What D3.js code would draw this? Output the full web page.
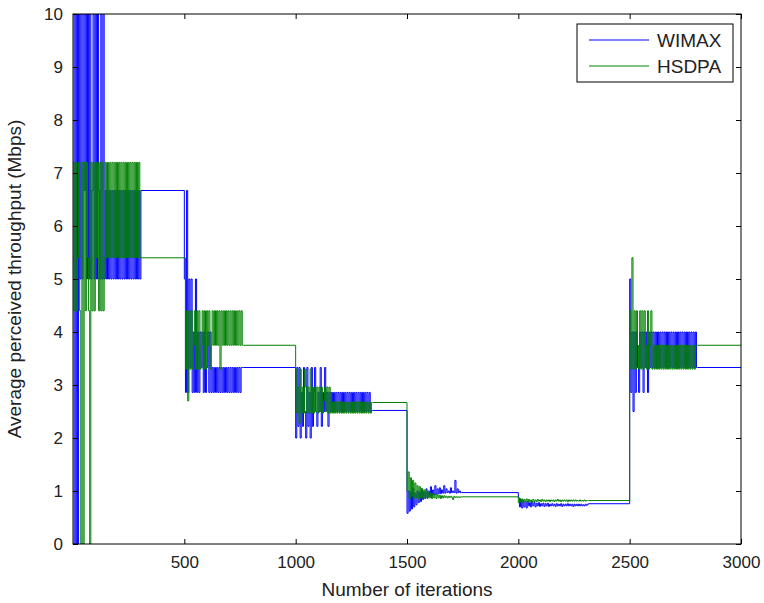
<!DOCTYPE html>
<html>
<head>
<meta charset="utf-8">
<script src="https://cdn.jsdelivr.net/npm/d3@7"></script>
<style>
  body { margin: 0; background: #fff; }
  svg text { font-family: "Liberation Sans", Arial, sans-serif; fill: #222; }
</style>
</head>
<body>
<div id="chart"></div>
<script>
// iterations between two samples of the oscillating part
const step = 5;
const phaseStarts = [0, 500, 1000, 1500, 2000, 2500];
const xMax = 3000;
const xTicks = [500, 1000, 1500, 2000, 2500, 3000];
const yTicks = [0, 1, 2, 3, 4, 5, 6, 7, 8, 9, 10];

// settled level of each phase
const wimaxLevels = [6.67, 3.33, 2.52, 0.97, 0.76, 3.33];
const hsdpaLevels = [5.4, 3.75, 2.67, 0.89, 0.82, 3.75];

// oscillating part of each phase (one value every `step` iterations)
const wimaxP1 = [0, 10, 0, 10, 0, 10,
  5, 10, 5, 10, 6.67, 10, 5, 10, 5, 10, 5, 6.67, 10, 5, 10, 5, 10, 6.67, 5, 10, 5, 10,
  5, 6.67, 5, 6.67, 5, 6.67, 5, 6.67, 5, 6.67, 5, 6.67, 5, 6.67, 5, 6.67, 5, 6.67,
  5, 6.67, 5, 6.67, 5, 6.67, 5, 6.67, 5, 6.67, 5, 6.67, 5, 6.67, 5];
const hsdpaP1 = [7.2, 4.4, 7.2, 4.4, 5.4, 7.2, 4.4, 0, 7.2, 0, 7.2, 4.4, 7.2, 5.4,
  4.4, 0, 7.2, 4.4, 7.2, 4.4, 7.2, 5.4, 7.2, 4.4, 7.2, 4.4, 7.2, 4.4,
  5.4, 7.2, 5.4, 7.2, 5.4, 7.2, 5.4, 7.2, 5.4, 7.2, 5.4, 7.2, 5.4, 7.2, 5.4, 7.2,
  5.4, 7.2, 5.4, 7.2, 5.4, 7.2, 5.4, 7.2, 5.4, 7.2, 5.4, 7.2, 5.4, 7.2, 5.4, 7.2, 5.4];

const wimaxP2 = [5, 2.86, 6.67, 2.86, 5, 3.33, 5, 2.86, 4, 2.86, 5, 2.86,
  4, 2.86, 4, 3.33, 4, 2.86, 4, 2.86, 3.33, 4, 2.86, 4,
  2.86, 3.33, 2.86, 3.33, 2.86, 3.33, 2.86, 3.33, 2.86, 3.33, 2.86, 3.33, 2.86, 3.33,
  2.86, 3.33, 2.86, 3.33, 2.86, 3.33, 2.86, 3.33, 2.86, 3.33, 2.86, 3.33, 2.86, 3.33, 3.33];
const hsdpaP2 = [5.4, 3.3, 4.4, 2.7, 4.4, 3.3, 4.4, 3.3, 3.75, 4.4, 3.3, 4.4,
  3.3, 4.4, 3.3, 3.75, 4.4, 3.3, 4.4, 3.3, 4.4, 3.75, 4.4, 3.3,
  3.75, 4.4, 3.75, 4.4, 3.75, 4.4, 3.75, 4.4, 3.3, 4.4, 3.75, 4.4, 3.75, 4.4,
  3.75, 4.4, 3.75, 4.4, 3.75, 4.4, 3.75, 4.4, 3.75, 4.4, 3.75, 4.4, 3.75, 4.4, 3.75];

const wimaxP3 = [2.0, 3.33, 2.22, 3.33, 2.0, 2.86, 2.22, 3.33, 2.5, 2.0, 3.33, 2.22, 2.86, 2.0, 3.33,
  2.22, 2.86, 3.33, 2.5, 2.22, 2.86, 2.5, 3.33, 2.22, 2.86, 2.5, 3.33, 2.5, 2.86, 2.22, 2.86,
  2.5, 2.86, 2.5, 2.86, 2.5, 2.86, 2.5, 2.86, 2.5, 2.86, 2.5, 2.86, 2.5, 2.86, 2.5, 2.86,
  2.5, 2.86, 2.5, 2.86, 2.5, 2.86, 2.5, 2.86, 2.5, 2.86, 2.5, 2.86, 2.5, 2.86, 2.5, 2.86,
  2.5, 2.86, 2.5, 2.86, 2.5, 2.52];
const hsdpaP3 = [3.3, 2.47, 2.96, 2.28, 3.3, 2.47, 2.96, 2.47, 3.3, 2.96, 2.47, 2.96, 2.47, 3.3, 2.47,
  2.96, 2.47, 2.96, 2.5, 2.96, 2.47, 2.96, 2.5, 2.96, 2.47, 2.7, 2.96, 2.5, 2.96, 2.47, 2.96,
  2.47, 2.68, 2.47, 2.68, 2.47, 2.68, 2.47, 2.68, 2.47, 2.68, 2.47, 2.68, 2.47, 2.68, 2.47, 2.68,
  2.47, 2.68, 2.47, 2.68, 2.47, 2.68, 2.47, 2.68, 2.47, 2.68, 2.47, 2.68, 2.47, 2.68, 2.47, 2.68,
  2.47, 2.68, 2.47, 2.68, 2.47, 2.67];

const wimaxP4 = [0.58, 1.0, 0.62, 0.98, 0.66, 1.05, 0.7, 0.96, 0.74, 1.0, 0.78, 0.98, 0.8, 1.02,
  0.84, 0.98, 0.86, 1.04, 0.88, 1.0, 0.9, 1.08, 0.92, 1.02, 0.93, 1.1, 0.94, 1.04, 0.95, 1.06,
  0.95, 1.02, 0.96, 1.1, 0.96, 1.04, 0.97, 1.0, 0.96, 1.06, 0.97, 1.0, 0.97, 1.2, 0.96, 1.04,
  0.97, 1.0, 0.97];
const hsdpaP4 = [1.0, 1.36, 0.85, 1.25, 0.9, 1.2, 0.86, 1.15, 0.88, 1.1, 0.85, 1.08, 0.87, 1.05,
  0.86, 1.02, 0.88, 1.0, 0.86, 0.98, 0.87, 0.96, 0.86, 0.95, 0.87, 0.94, 0.86, 0.93, 0.87, 0.92,
  0.86, 0.91, 0.87, 0.91, 0.88, 0.9, 0.87, 0.9, 0.88, 0.9, 0.88, 0.84, 0.9, 0.88, 0.89, 0.88,
  0.89, 0.88, 0.89];

const wimaxP5 = [0.87, 0.7, 0.84, 0.68, 0.82, 0.7, 0.8, 0.68, 0.8, 0.72, 0.78, 0.7, 0.8, 0.72,
  0.78, 0.7, 0.77, 0.72, 0.78, 0.71, 0.76, 0.72, 0.77, 0.71, 0.76, 0.72, 0.77, 0.71, 0.75, 0.72,
  0.76, 0.72, 0.75, 0.71, 0.76, 0.72, 0.75, 0.72, 0.76, 0.71, 0.75, 0.72, 0.75, 0.72, 0.76, 0.72,
  0.75, 0.72, 0.75, 0.71, 0.75, 0.72, 0.75, 0.72, 0.75, 0.72, 0.75, 0.72, 0.74, 0.72, 0.75, 0.73, 0.75];
const hsdpaP5 = [0.78, 0.86, 0.79, 0.85, 0.78, 0.84, 0.8, 0.85, 0.79, 0.84, 0.8, 0.83, 0.79, 0.84,
  0.8, 0.83, 0.8, 0.84, 0.81, 0.83, 0.8, 0.84, 0.81, 0.83, 0.8, 0.83, 0.81, 0.83, 0.8, 0.83,
  0.81, 0.83, 0.8, 0.83, 0.81, 0.84, 0.81, 0.83, 0.8, 0.83, 0.81, 0.83, 0.81, 0.83, 0.8, 0.83,
  0.81, 0.83, 0.81, 0.83, 0.81, 0.83, 0.81, 0.82, 0.81, 0.83, 0.81, 0.82, 0.81, 0.83, 0.81, 0.82, 0.82];

const wimaxP6 = [5.0, 2.86, 4.0, 2.5, 4.0, 2.86, 4.0, 3.33, 2.86, 4.0, 3.33, 4.0, 2.86, 4.0,
  3.33, 4.0, 2.86, 4.0, 3.33, 4.0,
  3.33, 4.0, 3.33, 4.0, 3.33, 4.0, 3.33, 4.0, 3.33, 4.0, 3.33, 4.0, 3.33, 4.0, 3.33, 4.0,
  3.33, 4.0, 3.33, 4.0, 3.33, 4.0, 3.33, 4.0, 3.33, 4.0, 3.33, 4.0, 3.33, 4.0, 3.33, 4.0,
  3.33, 4.0, 3.33, 4.0, 3.33, 4.0, 3.33, 4.0, 3.33];
const hsdpaP6 = [4.4, 3.3, 5.4, 3.3, 4.4, 3.3, 4.4, 3.75, 3.3, 4.4, 3.3, 4.4, 3.3, 4.4,
  3.75, 3.3, 4.4, 3.3, 3.75, 4.4,
  3.3, 3.75, 3.3, 3.75, 3.3, 3.75, 3.3, 3.75, 3.3, 3.75, 3.3, 3.75, 3.3, 3.75, 3.3, 3.75,
  3.3, 3.75, 3.3, 3.75, 3.3, 3.75, 3.3, 3.75, 3.3, 3.75, 3.3, 3.75, 3.3, 3.75, 3.3, 3.75,
  3.3, 3.75, 3.3, 3.75, 3.3, 3.75, 3.3, 3.75, 3.75];

const wimaxPhases = [wimaxP1, wimaxP2, wimaxP3, wimaxP4, wimaxP5, wimaxP6];
const hsdpaPhases = [hsdpaP1, hsdpaP2, hsdpaP3, hsdpaP4, hsdpaP5, hsdpaP6];

// turn phases + levels into [iteration, value] points
function buildSeries(phases, levels) {
  const pts = [];
  phases.forEach(function (osc, k) {
    const s = phaseStarts[k];
    const e = k + 1 < phaseStarts.length ? phaseStarts[k + 1] : xMax;
    osc.forEach(function (v, i) {
      pts.push([s + i * step, v]);
    });
    pts.push([s + osc.length * step, levels[k]]);
    pts.push([e, levels[k]]);
  });
  return pts;
}

const series = [
  { name: "WIMAX", color: "#0000ff", points: buildSeries(wimaxPhases, wimaxLevels) },
  { name: "HSDPA", color: "#008000", points: buildSeries(hsdpaPhases, hsdpaLevels) }
];

const margin = { top: 14, right: 23, bottom: 59, left: 73 },
  width = 764 - margin.left - margin.right,
  height = 603 - margin.top - margin.bottom;

const svg = d3.select("#chart")
  .append("svg")
  .attr("width", 764)
  .attr("height", 603)
  .append("g")
  .attr("transform", `translate(${margin.left},${margin.top})`);

const x = d3.scaleLinear().domain([0, xMax]).range([0, width]);
const y = d3.scaleLinear().domain([0, 10]).range([height, 0]);

svg.append("clipPath").attr("id", "clip")
  .append("rect").attr("width", width).attr("height", height);

// the sampled values jump between levels, so draw them as steps
const line = d3.line()
  .curve(d3.curveStepAfter)
  .x(function (d) { return x(d[0]); })
  .y(function (d) { return y(d[1]); });

svg.append("g")
  .attr("clip-path", "url(#clip)")
  .selectAll("path")
  .data(series)
  .join("path")
  .attr("fill", "none")
  .attr("stroke", function (d) { return d.color; })
  .attr("stroke-width", 1)
  .attr("d", function (d) { return line(d.points); });

// axes, ticks pointing inward on all four sides
function styleAxis(g) {
  g.select(".domain").remove();
  g.selectAll(".tick line").attr("stroke", "#000");
  g.selectAll(".tick text").attr("font-size", "17px").attr("fill", "#222");
}
svg.append("g")
  .attr("transform", `translate(0,${height})`)
  .call(d3.axisBottom(x).tickValues(xTicks).tickFormat(d3.format("d"))
    .tickSizeInner(-5).tickSizeOuter(0).tickPadding(12))
  .call(styleAxis);
svg.append("g")
  .call(d3.axisTop(x).tickValues(xTicks).tickSizeInner(-5).tickSizeOuter(0).tickFormat(""))
  .call(styleAxis);
svg.append("g")
  .call(d3.axisLeft(y).tickValues(yTicks).tickSizeInner(-5).tickSizeOuter(0).tickPadding(10))
  .call(styleAxis);
svg.append("g")
  .attr("transform", `translate(${width},0)`)
  .call(d3.axisRight(y).tickValues(yTicks).tickSizeInner(-5).tickSizeOuter(0).tickFormat(""))
  .call(styleAxis);

svg.append("rect")
  .attr("width", width)
  .attr("height", height)
  .attr("fill", "none")
  .attr("stroke", "#000")
  .attr("stroke-width", 1);

// axis labels
svg.append("text")
  .attr("x", width / 2)
  .attr("y", height + 52)
  .attr("text-anchor", "middle")
  .attr("font-size", "19px")
  .text("Number of iterations");
svg.append("text")
  .attr("transform", `translate(${-52},${height / 2}) rotate(-90)`)
  .attr("text-anchor", "middle")
  .attr("font-size", "19px")
  .text("Average perceived throughput (Mbps)");

// legend
const legend = svg.append("g").attr("transform", `translate(${width - 164},10)`);
legend.append("rect")
  .attr("width", 156)
  .attr("height", 58)
  .attr("fill", "#fff")
  .attr("stroke", "#000");
series.forEach(function (s, i) {
  const ly = 16 + i * 26;
  legend.append("line")
    .attr("x1", 12).attr("x2", 72)
    .attr("y1", ly).attr("y2", ly)
    .attr("stroke", s.color);
  legend.append("text")
    .attr("x", 80)
    .attr("y", ly)
    .attr("dy", "0.35em")
    .attr("font-size", "19px")
    .text(s.name);
});
</script>
</body>
</html>
